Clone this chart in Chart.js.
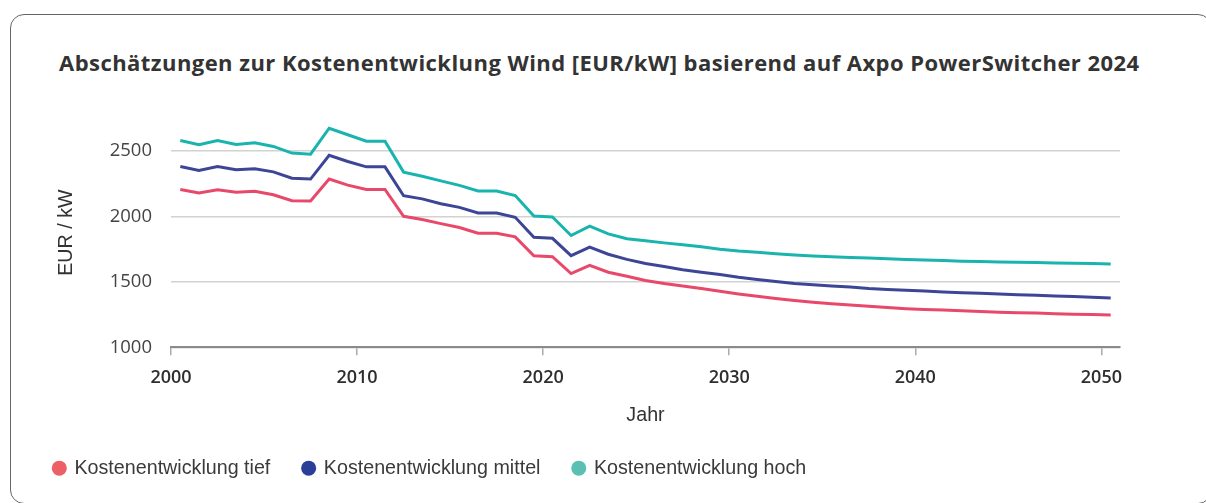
<!DOCTYPE html>
<html lang="de">

<head>
    <meta charset="UTF-8">
    <title>Kostenentwicklung Wind</title>
    <script src="https://cdn.jsdelivr.net/npm/chart.js"></script>
    <style>
        body {
            margin: 0;
            background: #fff;
            width: 1206px;
            height: 503px;
            overflow: hidden;
            position: relative;
        }

        .card {
            position: absolute;
            left: 10px;
            top: 14px;
            width: 1200px;
            height: 488px;
            border: 1.5px solid #666;
            border-radius: 14px;
        }

        h2 {
            position: absolute;
            left: 59px;
            top: 51px;
            margin: 0;
            font: bold 22px "Open Sans", sans-serif;
            letter-spacing: 0.45px;
            line-height: 1;
            color: #333;
            white-space: nowrap;
        }

        .wrap {
            position: absolute;
            left: 0;
            top: 0;
            width: 1206px;
            height: 503px;
        }
    </style>
</head>

<body>
    <div class="card"></div>
    <h2>Abschätzungen zur Kostenentwicklung Wind [EUR/kW] basierend auf Axpo PowerSwitcher 2024</h2>
    <div class="wrap"><canvas id="windChart"></canvas></div>

    <script>
        // Jahre 2000 - 2050
        const years = [];
        for (let y = 2000; y <= 2050; y++) years.push(y);

        const tief = [2205, 2177, 2202, 2183, 2190, 2164, 2119, 2116, 2284, 2238,
            2205, 2205, 2000, 1975, 1944, 1914, 1871, 1871, 1843, 1699,
            1691, 1563, 1626, 1573, 1542, 1510, 1487, 1468, 1449, 1427,
            1407, 1389, 1372, 1357, 1344, 1332, 1322, 1314, 1304, 1295,
            1289, 1284, 1279, 1274, 1268, 1264, 1261, 1256, 1253, 1251, 1246];

        const mittel = [2380, 2350, 2380, 2355, 2362, 2339, 2291, 2284, 2466, 2418,
            2377, 2377, 2157, 2133, 2096, 2068, 2025, 2025, 1992, 1840,
            1832, 1699, 1765, 1710, 1671, 1639, 1616, 1592, 1572, 1555,
            1534, 1518, 1503, 1487, 1477, 1467, 1460, 1449, 1442, 1436,
            1429, 1422, 1417, 1412, 1407, 1402, 1397, 1392, 1387, 1382, 1377];

        const hoch = [2578, 2546, 2578, 2548, 2561, 2533, 2482, 2474, 2672, 2622,
            2573, 2573, 2337, 2305, 2270, 2236, 2193, 2193, 2158, 2002,
            1995, 1853, 1924, 1866, 1828, 1813, 1797, 1782, 1767, 1749,
            1735, 1725, 1714, 1704, 1696, 1691, 1686, 1681, 1675, 1671,
            1667, 1662, 1657, 1655, 1651, 1649, 1647, 1644, 1641, 1639, 1636];

        const yTicks = [1000, 1500, 2000, 2500];

        const smallFont = { family: "'Liberation Sans', Arial, sans-serif", size: 19.7, lineHeight: 1 };

        new Chart(document.getElementById("windChart"), {
            type: "line",
            data: {
                labels: years,
                datasets: [{
                    label: "Kostenentwicklung tief",
                    data: tief,
                    borderColor: "#e8486a",
                    backgroundColor: "#ec5f67"
                }, {
                    label: "Kostenentwicklung mittel",
                    data: mittel,
                    borderColor: "#3d4596",
                    backgroundColor: "#2b3f99"
                }, {
                    label: "Kostenentwicklung hoch",
                    data: hoch,
                    borderColor: "#19b4ad",
                    backgroundColor: "#5cbfb4"
                }]
            },
            options: {
                responsive: true,
                maintainAspectRatio: false,
                animation: false,
                datasets: {
                    line: { borderWidth: 3, pointRadius: 0, tension: 0, fill: false }
                },
                layout: { padding: { left: 21, right: 86, top: 118, bottom: 15 } },
                plugins: {
                    tooltip: { enabled: false },
                    legend: {
                        position: "bottom",
                        align: "start",
                        labels: {
                            usePointStyle: true,
                            pointStyle: "circle",
                            boxWidth: 10.6,
                            boxHeight: 10.6,
                            padding: 33,
                            color: "#3a3a3a",
                            font: smallFont,
                            // flache Punkte ohne Rand
                            generateLabels: chart => Chart.defaults.plugins.legend.labels.generateLabels(chart)
                                .map(l => Object.assign(l, { strokeStyle: l.fillStyle, lineWidth: 0 }))
                        }
                    }
                },
                scales: {
                    x: {
                        type: "category",
                        offset: true,
                        afterFit: s => { s.height = 78; },
                        grid: {
                            offset: true,
                            drawOnChartArea: false,
                            drawTicks: true,
                            tickLength: 8,
                            lineWidth: 1.5,
                            color: c => (c.tick && years[c.index] % 10 === 0) ? "#aaa" : "rgba(0,0,0,0)"
                        },
                        border: { display: true, color: "#8a8a8a", width: 2 },
                        ticks: {
                            autoSkip: false,
                            maxRotation: 0,
                            labelOffset: -9.3,
                            padding: 12,
                            color: "#2e2e2e",
                            font: { family: "'Open Sans', sans-serif", size: 18, weight: 600 },
                            callback: (v, i) => years[i] % 10 === 0 ? String(years[i]) : ""
                        },
                        title: {
                            display: true,
                            text: "Jahr",
                            color: "#333",
                            font: smallFont,
                            padding: { top: 0, bottom: 0 }
                        }
                    },
                    y: {
                        min: 1000,
                        max: 2750,
                        afterFit: s => { s.width = 150; },
                        afterBuildTicks: s => { s.ticks = yTicks.map(v => ({ value: v })); },
                        grid: { color: "#d2d2d2", lineWidth: 1.5, drawTicks: false },
                        border: { display: false },
                        ticks: {
                            padding: 19,
                            color: "#444",
                            font: { family: "'Open Sans', sans-serif", size: 18.5 },
                            callback: v => String(v)
                        },
                        title: {
                            display: true,
                            text: "EUR / kW",
                            color: "#333",
                            font: smallFont,
                            padding: { top: 36, bottom: 0 }
                        }
                    }
                }
            }
        });
    </script>
</body>

</html>
